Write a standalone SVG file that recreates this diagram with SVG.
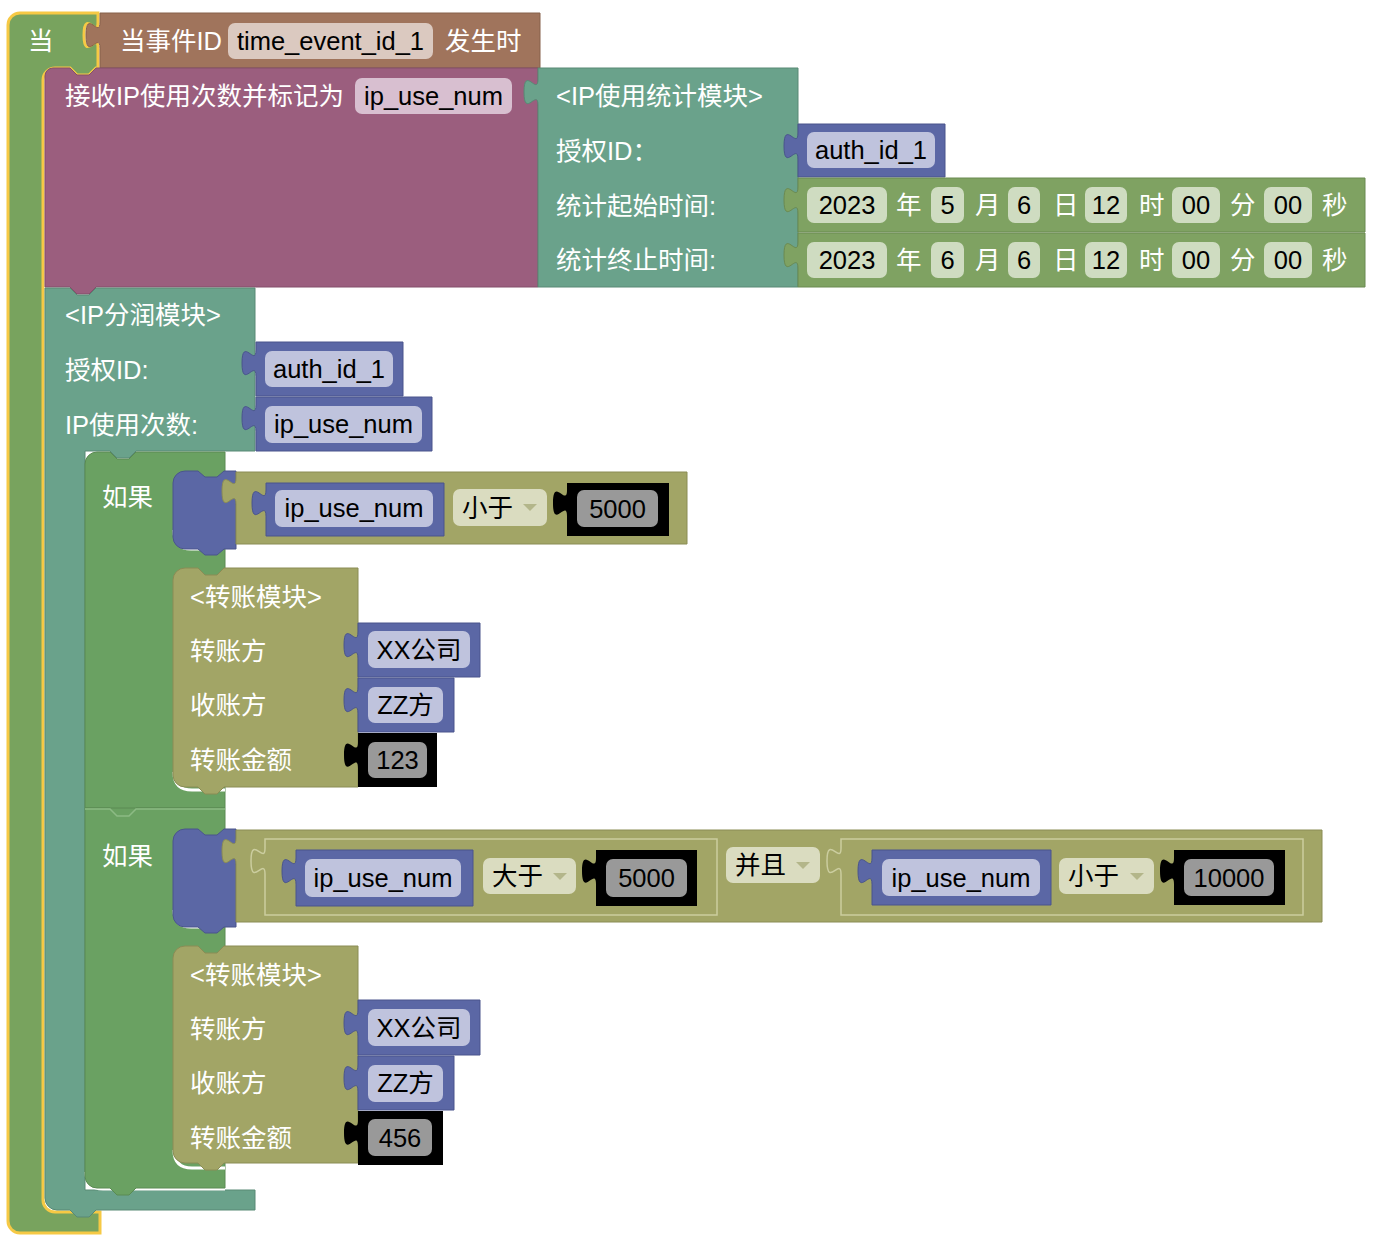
<svg xmlns="http://www.w3.org/2000/svg" width="1378" height="1254" viewBox="0 0 1378 1254">
<style>
.t{font-family:"Liberation Sans","Noto Sans CJK SC",sans-serif;font-size:25.5px}
.w{fill:#fff}
.k{fill:#000}
.c{text-anchor:middle}
.o{fill:#78a35e;stroke:#f6c945;stroke-width:3}
.br{fill:#a0745c;stroke:#86604b;stroke-width:1}
.pu{fill:#9b5e7e;stroke:#834e6a;stroke-width:1}
.te{fill:#6aa28b;stroke:#588975;stroke-width:1}
.bl{fill:#5b67a5;stroke:#4a558c;stroke-width:1}
.dg{fill:#7fa262;stroke:#6b8a51;stroke-width:1}
.ig{fill:#6aa162;stroke:#5a8a52;stroke-width:1}
.ol{fill:#a2a566;stroke:#8a8c55;stroke-width:1}
.oi{fill:#a2a566;stroke:#cbcd9f;stroke-width:1.5}
.bk{fill:#000}
.fbr{fill:#dbc9c0}
.fpu{fill:#d8bfd0}
.fbl{fill:#bfc3dd}
.fdg{fill:#cfdcc1}
.fdd{fill:#dadcc0}
.fnum{fill:#999}
.arr{fill:#b3b68a}
.hl{fill:none;stroke:#fff;stroke-width:3}
.sep{fill:none;stroke:#8cbb84;stroke-width:1.5}
</style>
<g id="when_block">
<path class="o" d="M8,25 A12,12 0 0 1 20,13 H98 V22 C98,39.5 84,8 84,35.1 C84,62.2 98,30.7 98,48.2 V68 H96 l-7,7 -12,0 -7,-7 H55 A12,12 0 0 0 43,80 V1200 A12,12 0 0 0 55,1212 H100 V1233 H20 A12,12 0 0 1 8,1221 Z"/>
<text class="t w" x="28" y="50">当</text>
</g>
<g id="event_block">
<path class="br" d="M100,13 H540 V68 H100 V48.2 C100,30.7 86,62.2 86,35.1 C86,8 100,39.5 100,22 Z"/>
<text class="t w" x="120" y="50">当事件ID</text>
<rect class="fbr" x="228" y="23" width="205" height="36" rx="7"/>
<text class="t k c" x="330.5" y="50">time_event_id_1</text>
<text class="t w" x="445" y="50">发生时</text>
</g>
<g id="receive_block">
<path class="pu" d="M45,76 A8,8 0 0 1 53,68 H70 l7,7 12,0 7,-7 H538 V287 H96 l-7,7 -12,0 -7,-7 H45 Z"/>
<text class="t w" x="65" y="105">接收IP使用次数并标记为</text>
<rect class="fpu" x="355" y="78" width="157" height="36" rx="7"/>
<text class="t k c" x="433.5" y="105">ip_use_num</text>
</g>
<g id="ip_stat_block">
<path class="te" d="M538,68 H798 V287 H538 V105.2 C538,87.7 524,119.2 524,92.1 C524,65 538,96.5 538,79 Z"/>
<text class="t w" x="556" y="105">&lt;IP使用统计模块&gt;</text>
<text class="t w" x="556" y="160">授权ID：</text>
<text class="t w" x="556" y="215">统计起始时间:</text>
<text class="t w" x="556" y="269">统计终止时间:</text>
</g>
<g id="auth_id_a">
<path class="bl" d="M798,124 H945 V177 H798 V159.2 C798,141.7 784,173.2 784,146.1 C784,119 798,150.5 798,133 Z"/>
<rect class="fbl" x="807" y="132" width="128" height="36" rx="7"/>
<text class="t k c" x="871" y="159">auth_id_1</text>
</g>
<g id="start_time">
<path class="dg" d="M798,178 H1365 V232 H798 V213.2 C798,195.7 784,227.2 784,200.1 C784,173 798,204.5 798,187 Z"/>
<rect class="fdg" x="807" y="187" width="80" height="36" rx="7"/>
<text class="t k c" x="847" y="214">2023</text>
<text class="t w" x="896" y="214">年</text>
<rect class="fdg" x="931" y="187" width="33" height="36" rx="7"/>
<text class="t k c" x="947.5" y="214">5</text>
<text class="t w" x="975" y="214">月</text>
<rect class="fdg" x="1008" y="187" width="32" height="36" rx="7"/>
<text class="t k c" x="1024" y="214">6</text>
<text class="t w" x="1053" y="214">日</text>
<rect class="fdg" x="1085" y="187" width="42" height="36" rx="7"/>
<text class="t k c" x="1106" y="214">12</text>
<text class="t w" x="1139" y="214">时</text>
<rect class="fdg" x="1172" y="187" width="48" height="36" rx="7"/>
<text class="t k c" x="1196" y="214">00</text>
<text class="t w" x="1230" y="214">分</text>
<rect class="fdg" x="1264" y="187" width="48" height="36" rx="7"/>
<text class="t k c" x="1288" y="214">00</text>
<text class="t w" x="1322" y="214">秒</text>
</g>
<g id="end_time">
<path class="dg" d="M798,233 H1365 V287 H798 V268.2 C798,250.7 784,282.2 784,255.1 C784,228 798,259.5 798,242 Z"/>
<rect class="fdg" x="807" y="242" width="80" height="36" rx="7"/>
<text class="t k c" x="847" y="269">2023</text>
<text class="t w" x="896" y="269">年</text>
<rect class="fdg" x="931" y="242" width="33" height="36" rx="7"/>
<text class="t k c" x="947.5" y="269">6</text>
<text class="t w" x="975" y="269">月</text>
<rect class="fdg" x="1008" y="242" width="32" height="36" rx="7"/>
<text class="t k c" x="1024" y="269">6</text>
<text class="t w" x="1053" y="269">日</text>
<rect class="fdg" x="1085" y="242" width="42" height="36" rx="7"/>
<text class="t k c" x="1106" y="269">12</text>
<text class="t w" x="1139" y="269">时</text>
<rect class="fdg" x="1172" y="242" width="48" height="36" rx="7"/>
<text class="t k c" x="1196" y="269">00</text>
<text class="t w" x="1230" y="269">分</text>
<rect class="fdg" x="1264" y="242" width="48" height="36" rx="7"/>
<text class="t k c" x="1288" y="269">00</text>
<text class="t w" x="1322" y="269">秒</text>
</g>
<g id="ip_share_block">
<path class="te" d="M45,288 H70 l7,7 12,0 7,-7 H255 V451 H136 l-7,7 -12,0 -7,-7 H85 V1190 H255 V1210 H96 l-7,7 -12,0 -7,-7 H57 A12,12 0 0 1 45,1198 Z"/>
<path class="hl" d="M86,1172 Q86,1189 103,1189 H225"/>
<text class="t w" x="65" y="324">&lt;IP分润模块&gt;</text>
<text class="t w" x="65" y="379">授权ID:</text>
<text class="t w" x="65" y="434">IP使用次数:</text>
</g>
<g id="auth_id_b">
<path class="bl" d="M256,342 H403 V396 H256 V376.2 C256,358.7 242,390.2 242,363.1 C242,336 256,367.5 256,350 Z"/>
<rect class="fbl" x="265" y="351" width="128" height="36" rx="7"/>
<text class="t k c" x="329" y="378">auth_id_1</text>
</g>
<g id="ip_use_num_b">
<path class="bl" d="M256,397 H432 V451 H256 V431.2 C256,413.7 242,445.2 242,418.1 C242,391 256,422.5 256,405 Z"/>
<rect class="fbl" x="265" y="406" width="157" height="37" rx="7"/>
<text class="t k c" x="343.5" y="433">ip_use_num</text>
</g>
<g id="if_1">
<path class="ig" d="M85,464 A12,12 0 0 1 97,452 H110 l7,7 12,0 7,-7 H225 V808 H136 l-7,7 -12,0 -7,-7 H85 Z"/>
<path class="hl" d="M174,530 Q174,549 191,549 H200"/>
<path class="hl" d="M174,772 Q174,790 192,790 H225"/>
<text class="t w" x="102" y="506">如果</text>
<path class="bl" d="M173,483 A12,12 0 0 1 185,471 H198 l7,6 12,0 7,-6 H236 V549 H224 l-7,6 -12,0 -7,-6 H185 A12,12 0 0 1 173,537 Z"/>
</g>
<g id="compare_1">
<path class="ol" d="M236,472 H687 V544 H236 V504.2 C236,486.7 222,518.2 222,491.1 C222,464 236,495.5 236,478 Z"/>
<path class="bl" d="M266,483 H444 V536 H266 V516.2 C266,498.7 252,530.2 252,503.1 C252,476 266,507.5 266,490 Z"/>
<rect class="fbl" x="275" y="490" width="158" height="37" rx="7"/>
<text class="t k c" x="354" y="517">ip_use_num</text>
<rect class="fdd" x="453" y="489" width="94" height="37" rx="7"/>
<text class="t k" x="462" y="517">小于</text>
<path class="arr" d="M523,504 H537 L530,511 Z"/>
<path class="bk" d="M567,483 H669 V536 H567 V516.2 C567,498.7 553,530.2 553,503.1 C553,476 567,507.5 567,490 Z"/>
<rect class="fnum" x="577" y="490" width="81" height="37" rx="7"/>
<text class="t k c" x="617.5" y="518">5000</text>
</g>
<g id="transfer_1">
<path class="ol" d="M173,580 A12,12 0 0 1 185,568 H198 l7,7 12,0 7,-7 H358 V787 H224 l-7,7 -12,0 -7,-7 H185 A12,12 0 0 1 173,775 Z"/>
<text class="t w" x="190" y="606">&lt;转账模块&gt;</text>
<text class="t w" x="190" y="660">转账方</text>
<text class="t w" x="190" y="714">收账方</text>
<text class="t w" x="190" y="769">转账金额</text>
<path class="bl" d="M358,623 H480 V677 H358 V658.2 C358,640.7 344,672.2 344,645.1 C344,618 358,649.5 358,632 Z"/>
<rect class="fbl" x="368" y="631" width="102" height="37" rx="7"/>
<text class="t k c" x="419" y="659">XX公司</text>
<path class="bl" d="M358,678 H454 V732 H358 V713.2 C358,695.7 344,727.2 344,700.1 C344,673 358,704.5 358,687 Z"/>
<rect class="fbl" x="368" y="687" width="75" height="36" rx="7"/>
<text class="t k c" x="405.5" y="714">ZZ方</text>
<path class="bk" d="M358,733 H437 V787 H358 V768.2 C358,750.7 344,782.2 344,755.1 C344,728 358,759.5 358,742 Z"/>
<rect class="fnum" x="368" y="742" width="59" height="36" rx="7"/>
<text class="t k c" x="397.5" y="769">123</text>
</g>
<g id="if_2">
<path class="ig" d="M85,808 H225 V1188 H136 l-7,7 -12,0 -7,-7 H97 A12,12 0 0 1 85,1176 Z"/>
<path class="sep" d="M85,809 H110 l7,7 12,0 7,-7 H225"/>
<path class="hl" d="M174,910 Q174,927 191,927 H200"/>
<path class="hl" d="M174,1150 Q174,1168 192,1168 H225"/>
<text class="t w" x="102" y="865">如果</text>
<path class="bl" d="M173,841 A12,12 0 0 1 185,829 H198 l7,6 12,0 7,-6 H236 V927 H224 l-7,6 -12,0 -7,-6 H185 A12,12 0 0 1 173,915 Z"/>
</g>
<g id="and_block">
<path class="ol" d="M236,830 H1322 V922 H236 V864.2 C236,846.7 222,878.2 222,851.1 C222,824 236,855.5 236,838 Z"/>
<rect class="fdd" x="726" y="847" width="94" height="36" rx="7"/>
<text class="t k" x="735" y="874">并且</text>
<path class="arr" d="M796,862 H810 L803,869 Z"/>
</g>
<g id="compare_2a">
<path class="oi" d="M265,839 H717 V915 H265 V874.2 C265,856.7 251,888.2 251,861.1 C251,834 265,865.5 265,848 Z"/>
<path class="bl" d="M296,850 H473 V906 H296 V884.2 C296,866.7 282,898.2 282,871.1 C282,844 296,875.5 296,858 Z"/>
<rect class="fbl" x="305" y="859" width="156" height="38" rx="7"/>
<text class="t k c" x="383" y="887">ip_use_num</text>
<rect class="fdd" x="483" y="858" width="93" height="36" rx="7"/>
<text class="t k" x="492" y="885">大于</text>
<path class="arr" d="M553,873 H567 L560,880 Z"/>
<path class="bk" d="M596,850 H697 V906 H596 V884.2 C596,866.7 582,898.2 582,871.1 C582,844 596,875.5 596,858 Z"/>
<rect class="fnum" x="606" y="859" width="81" height="38" rx="7"/>
<text class="t k c" x="646.5" y="887">5000</text>
</g>
<g id="compare_2b">
<path class="oi" d="M841,839 H1303 V915 H841 V874.2 C841,856.7 827,888.2 827,861.1 C827,834 841,865.5 841,848 Z"/>
<path class="bl" d="M872,850 H1051 V905 H872 V884.2 C872,866.7 858,898.2 858,871.1 C858,844 872,875.5 872,858 Z"/>
<rect class="fbl" x="882" y="859" width="158" height="37" rx="7"/>
<text class="t k c" x="961" y="887">ip_use_num</text>
<rect class="fdd" x="1059" y="858" width="95" height="36" rx="7"/>
<text class="t k" x="1068" y="885">小于</text>
<path class="arr" d="M1130,873 H1144 L1137,880 Z"/>
<path class="bk" d="M1174,850 H1285 V905 H1174 V884.2 C1174,866.7 1160,898.2 1160,871.1 C1160,844 1174,875.5 1174,858 Z"/>
<rect class="fnum" x="1184" y="859" width="90" height="37" rx="7"/>
<text class="t k c" x="1229" y="887">10000</text>
</g>
<g id="transfer_2">
<path class="ol" d="M173,958 A12,12 0 0 1 185,946 H198 l7,7 12,0 7,-7 H358 V1163 H224 l-7,7 -12,0 -7,-7 H185 A12,12 0 0 1 173,1151 Z"/>
<text class="t w" x="190" y="984">&lt;转账模块&gt;</text>
<text class="t w" x="190" y="1038">转账方</text>
<text class="t w" x="190" y="1092">收账方</text>
<text class="t w" x="190" y="1147">转账金额</text>
<path class="bl" d="M358,1000 H480 V1055 H358 V1036.2 C358,1018.7 344,1050.2 344,1023.1 C344,996 358,1027.5 358,1010 Z"/>
<rect class="fbl" x="368" y="1009" width="102" height="37" rx="7"/>
<text class="t k c" x="419" y="1037">XX公司</text>
<path class="bl" d="M358,1056 H454 V1110 H358 V1091.2 C358,1073.7 344,1105.2 344,1078.1 C344,1051 358,1082.5 358,1065 Z"/>
<rect class="fbl" x="368" y="1065" width="75" height="37" rx="7"/>
<text class="t k c" x="405.5" y="1092">ZZ方</text>
<path class="bk" d="M358,1111 H443 V1165 H358 V1146.2 C358,1128.7 344,1160.2 344,1133.1 C344,1106 358,1137.5 358,1120 Z"/>
<rect class="fnum" x="368" y="1119" width="64" height="37" rx="7"/>
<text class="t k c" x="400" y="1147">456</text>
</g>
<g id="connectors"/>
</svg>
